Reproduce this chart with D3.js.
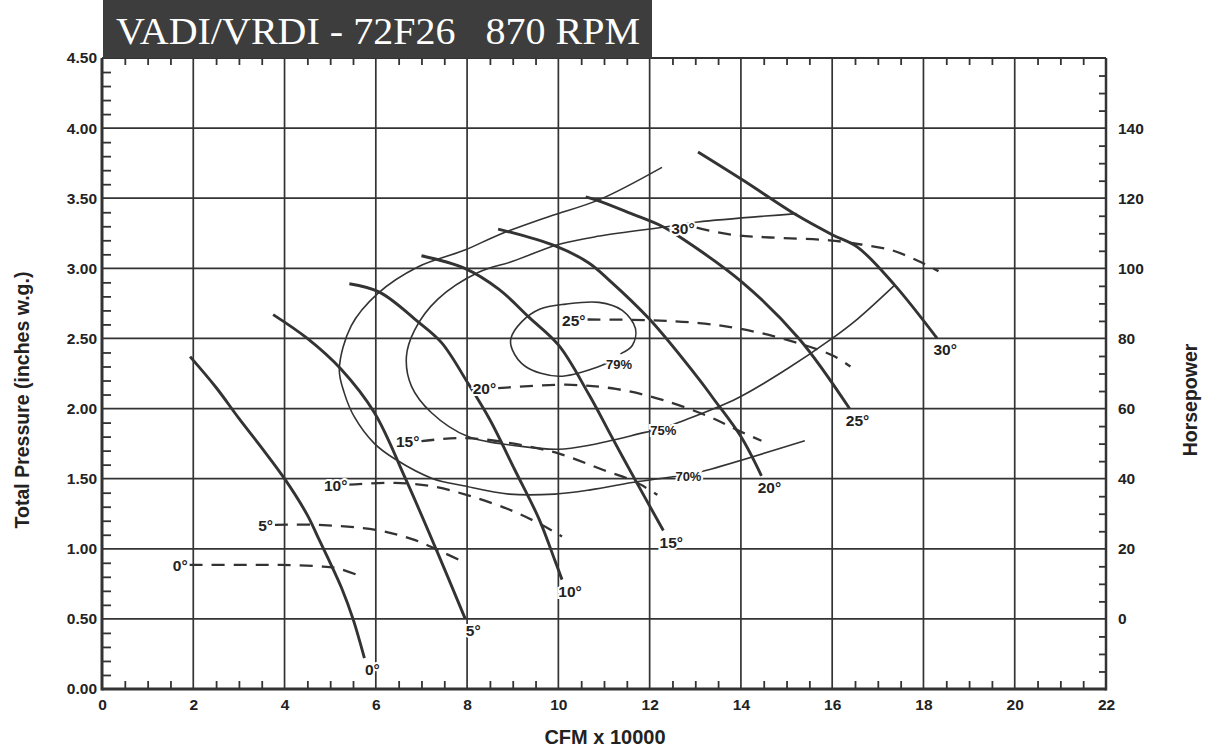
<!DOCTYPE html>
<html>
<head>
<meta charset="utf-8">
<script src="https://cdn.jsdelivr.net/npm/d3@7"></script>
<style>
  html, body { margin: 0; padding: 0; background: #fff; }
  svg { display: block; }
</style>
</head>
<body>
<svg id="chart" width="1209" height="752"></svg>
<script>
// ---------- DATA ----------
const titleText = "VADI/VRDI - 72F26   870 RPM";
const xTicks = [0, 2, 4, 6, 8, 10, 12, 14, 16, 18, 20, 22];
const yTicks = [0, 0.5, 1.0, 1.5, 2.0, 2.5, 3.0, 3.5, 4.0, 4.5];
const yTickLabels = ["0.00", "0.50", "1.00", "1.50", "2.00", "2.50", "3.00", "3.50", "4.00", "4.50"];
const hpTicks = [0, 20, 40, 60, 80, 100, 120, 140];
const angles = ["0°", "5°", "10°", "15°", "20°", "25°", "30°"];

// Total pressure curves [CFM x 10000, inches w.g.]
const pressure0  = [[1.93,2.37],[2.5,2.15],[3.0,1.93],[3.5,1.72],[4.0,1.50],[4.5,1.24],[4.75,1.07],[5.0,0.90],[5.25,0.72],[5.5,0.50],[5.75,0.22]];
const pressure5  = [[3.75,2.67],[4.5,2.50],[5.24,2.28],[5.97,1.97],[6.65,1.50],[7.33,0.99],[7.96,0.50]];
const pressure10 = [[5.42,2.89],[6.08,2.83],[6.92,2.62],[7.44,2.47],[8.02,2.18],[8.5,1.92],[9.05,1.56],[9.58,1.21],[9.92,0.92],[10.08,0.78]];
const pressure15 = [[7.0,3.09],[7.95,3.0],[8.7,2.85],[9.36,2.65],[10.01,2.45],[10.67,2.10],[11.2,1.78],[11.72,1.47],[12.3,1.13]];
const pressure20 = [[8.68,3.28],[9.93,3.16],[10.66,3.04],[11.1,2.92],[11.99,2.64],[13.08,2.21],[13.4,2.07],[14.0,1.80],[14.45,1.52]];
const pressure25 = [[10.6,3.51],[10.9,3.48],[11.6,3.39],[12.27,3.30],[12.63,3.23],[14.03,2.90],[15.27,2.50],[16.38,2.00]];
const pressure30 = [[13.06,3.83],[14.04,3.63],[15.22,3.38],[16.0,3.24],[16.56,3.15],[17.37,2.88],[18.3,2.50]];

// Horsepower curves [CFM x 10000, HP]
const hp0  = [[1.92,15.4],[3.0,15.4],[3.92,15.4],[4.75,15.0],[5.17,14.4],[5.7,12.0]];
const hp5  = [[3.79,26.8],[4.75,26.8],[6.0,25.4],[6.83,22.6],[7.5,18.8],[7.96,16.0]];
const hp10 = [[5.42,38.3],[6.42,38.8],[7.25,37.8],[8.08,35.0],[8.92,31.2],[9.58,27.2],[10.08,23.5]];
const hp15 = [[7.0,50.7],[7.92,51.6],[8.92,50.2],[10.0,47.2],[11.0,42.4],[11.67,39.2],[12.17,35.4]];
const hp20 = [[8.68,65.8],[10.16,66.8],[11.26,65.6],[12.3,62.4],[13.32,57.6],[13.9,54.0],[14.45,50.8]];
const hp25 = [[10.64,85.4],[12.0,85.2],[13.08,84.4],[13.96,82.8],[14.9,80.0],[16.0,75.2],[16.4,72.0]];
const hp30 = [[13.03,111.6],[13.78,109.6],[14.65,108.8],[15.94,108.0],[16.63,106.8],[17.3,105.2],[17.9,102.0],[18.33,99.2]];

// Static efficiency contours [CFM x 10000, inches w.g.]
const effLabels = ["70%", "75%", "79%"];
const eff70 = [[12.27,3.72],[10.9,3.49],[9.8,3.37],[8.7,3.24],[7.95,3.13],[6.92,3.01],[6.04,2.82],[5.46,2.59],[5.2,2.28],[5.31,2.11],[5.53,1.94],[5.97,1.75],[6.42,1.64],[7.25,1.50],[7.92,1.45],[8.92,1.39],[9.92,1.39],[10.7,1.42],[11.75,1.48],[12.85,1.53],[13.25,1.56],[15.4,1.77]];
const eff75 = [[15.22,3.39],[13.06,3.33],[12.45,3.30],[10.9,3.23],[10.0,3.17],[9.0,3.05],[8.24,2.97],[7.36,2.78],[6.85,2.56],[6.67,2.37],[6.78,2.16],[7.22,1.97],[8.02,1.80],[9.19,1.73],[10.0,1.71],[10.7,1.74],[11.9,1.83],[12.3,1.86],[12.63,1.90],[13.9,2.07],[15.0,2.28],[16.0,2.50],[16.56,2.64],[17.37,2.88]];
const eff79 = [[11.36,2.39],[11.62,2.45],[11.69,2.57],[11.4,2.70],[10.89,2.757],[10.16,2.745],[9.6,2.71],[9.2,2.62],[8.96,2.50],[8.99,2.42],[9.28,2.30],[10.01,2.23],[10.89,2.30],[11.1,2.33]];
const effLabelPos = [[12.85,1.52],[12.3,1.85],[11.33,2.32]];

// ---------- CHART ----------
const pressureCurves = [pressure0, pressure5, pressure10, pressure15, pressure20, pressure25, pressure30];
const hpCurves = [hp0, hp5, hp10, hp15, hp20, hp25, hp30];
const effCurves = [eff70, eff75, eff79];

const svg = d3.select("#chart");
const L = 102, R = 1106, T = 58, B = 689;
const ink = "#333";

const x = d3.scaleLinear().domain([0, 22]).range([L, R]);
const y = d3.scaleLinear().domain([0, 4.5]).range([B, T]);
const yHp = d3.scaleLinear().domain([-20, 160]).range([B, T]);

const labelFont = "'Liberation Sans', Arial, sans-serif";

// grid
const grid = svg.append("g");
grid.selectAll("line.v").data(xTicks.slice(1, -1)).join("line")
  .attr("x1", d => x(d)).attr("x2", d => x(d)).attr("y1", T).attr("y2", B)
  .attr("stroke", ink).attr("stroke-width", 1.7);
grid.selectAll("line.h").data(yTicks.slice(1, -1)).join("line")
  .attr("y1", d => y(d)).attr("y2", d => y(d)).attr("x1", L).attr("x2", R)
  .attr("stroke", ink).attr("stroke-width", 1.7);

// axes with inward minor ticks
const minorX = d3.range(0, 22.01, 0.5).filter(v => v % 2 !== 0);
const minorY = d3.range(0, 4.501, 0.1).filter(v => Math.abs(v * 2 - Math.round(v * 2)) > 1e-6);
const minorHp = d3.range(-20, 160.1, 5).filter(v => v % 20 !== 0);

const axBottom = svg.append("g").attr("transform", `translate(0,${B})`)
  .call(d3.axisBottom(x).tickValues(xTicks).tickSize(0).tickPadding(10).tickFormat(d3.format("d")));
const axTop = svg.append("g").attr("transform", `translate(0,${T})`)
  .call(d3.axisTop(x).tickValues(minorX).tickSize(-7).tickFormat(""));
const axLeft = svg.append("g").attr("transform", `translate(${L},0)`)
  .call(d3.axisLeft(y).tickValues(yTicks).tickSize(0).tickPadding(5).tickFormat((d, i) => yTickLabels[i]));
const axLeftMinor = svg.append("g").attr("transform", `translate(${L},0)`)
  .call(d3.axisLeft(y).tickValues(minorY).tickSize(-9).tickFormat(""));
const axBottomMinor = svg.append("g").attr("transform", `translate(0,${B})`)
  .call(d3.axisBottom(x).tickValues(minorX).tickSize(-8).tickFormat(""));
const axRight = svg.append("g").attr("transform", `translate(${R},0)`)
  .call(d3.axisRight(yHp).tickValues(hpTicks).tickSize(0).tickPadding(12).tickFormat(d3.format("d")));
const axRightMinor = svg.append("g").attr("transform", `translate(${R},0)`)
  .call(d3.axisRight(yHp).tickValues(minorHp).tickSize(-7).tickFormat(""));

[axBottom, axTop, axLeft, axLeftMinor, axBottomMinor, axRight, axRightMinor].forEach(a => {
  a.select(".domain").remove();
  a.selectAll(".tick line").attr("stroke", ink).attr("stroke-width", 1.8);
  a.selectAll("text").attr("fill", "#222").attr("font-family", labelFont)
    .attr("font-weight", "bold").attr("font-size", 15.5);
});

// frame
svg.append("line").attr("x1", L).attr("x2", L).attr("y1", T).attr("y2", B + 1.5).attr("stroke", ink).attr("stroke-width", 3);
svg.append("line").attr("x1", L).attr("x2", R).attr("y1", B).attr("y2", B).attr("stroke", ink).attr("stroke-width", 3);
svg.append("line").attr("x1", R).attr("x2", R).attr("y1", T).attr("y2", B + 1.5).attr("stroke", ink).attr("stroke-width", 2.5);
svg.append("line").attr("x1", L).attr("x2", R).attr("y1", T).attr("y2", T).attr("stroke", ink).attr("stroke-width", 2);

// title box
svg.append("rect").attr("x", 103).attr("y", 0).attr("width", 549).attr("height", T)
  .attr("fill", "#3d3d3d");
svg.append("text").attr("x", 116).attr("y", 44)
  .attr("fill", "#fff").attr("font-family", "'Liberation Serif', 'Times New Roman', serif")
  .attr("font-size", 37).attr("xml:space", "preserve").style("white-space", "pre")
  .attr("textLength", 524).attr("lengthAdjust", "spacingAndGlyphs")
  .text(titleText);

// axis titles
svg.append("text").attr("transform", `translate(29,400) rotate(-90)`)
  .attr("text-anchor", "middle").attr("font-family", labelFont).attr("font-weight", "bold")
  .attr("font-size", 19.5).attr("fill", "#222").text("Total Pressure (inches w.g.)");
svg.append("text").attr("transform", `translate(1197,400) rotate(-90)`)
  .attr("text-anchor", "middle").attr("font-family", labelFont).attr("font-weight", "bold")
  .attr("font-size", 19.5).attr("fill", "#222").text("Horsepower");
svg.append("text").attr("x", 605).attr("y", 744)
  .attr("text-anchor", "middle").attr("font-family", labelFont).attr("font-weight", "bold")
  .attr("font-size", 20).attr("fill", "#222").text("CFM x 10000");

// curves
const linePressure = d3.line().x(d => x(d[0])).y(d => y(d[1])).curve(d3.curveCatmullRom.alpha(0.5));
const lineHp = d3.line().x(d => x(d[0])).y(d => yHp(d[1])).curve(d3.curveCatmullRom.alpha(0.5));

svg.append("g").selectAll("path").data(effCurves).join("path")
  .attr("d", linePressure).attr("fill", "none").attr("stroke", ink).attr("stroke-width", 1.6);

svg.append("g").selectAll("path").data(hpCurves).join("path")
  .attr("d", lineHp).attr("fill", "none").attr("stroke", ink).attr("stroke-width", 2.3)
  .attr("stroke-dasharray", "13,9");

svg.append("g").selectAll("path").data(pressureCurves).join("path")
  .attr("d", linePressure).attr("fill", "none").attr("stroke", ink).attr("stroke-width", 2.9);

// labels
function halo(sel) {
  return sel.attr("font-family", labelFont).attr("font-weight", "bold").attr("fill", "#222")
    .attr("stroke", "#fff").attr("stroke-width", 4).attr("paint-order", "stroke");
}
// efficiency labels
halo(svg.append("g").selectAll("text").data(effLabels).join("text")
  .attr("x", (d, i) => x(effLabelPos[i][0])).attr("y", (d, i) => y(effLabelPos[i][1]) + 5)
  .attr("text-anchor", "middle").attr("font-size", 13).text(d => d));
// pressure curve end labels
halo(svg.append("g").selectAll("text").data(angles).join("text")
  .attr("x", (d, i) => { const p = pressureCurves[i][pressureCurves[i].length - 1]; return x(p[0]) + 8; })
  .attr("y", (d, i) => { const p = pressureCurves[i][pressureCurves[i].length - 1]; return y(p[1]) + 17; })
  .attr("text-anchor", "middle").attr("font-size", 15.5).text(d => d));
// horsepower curve start labels
halo(svg.append("g").selectAll("text").data(angles).join("text")
  .attr("x", (d, i) => x(hpCurves[i][0][0]) - 2)
  .attr("y", (d, i) => yHp(hpCurves[i][0][1]) + 6)
  .attr("text-anchor", "end").attr("font-size", 15.5).text(d => d));
</script>
</body>
</html>
